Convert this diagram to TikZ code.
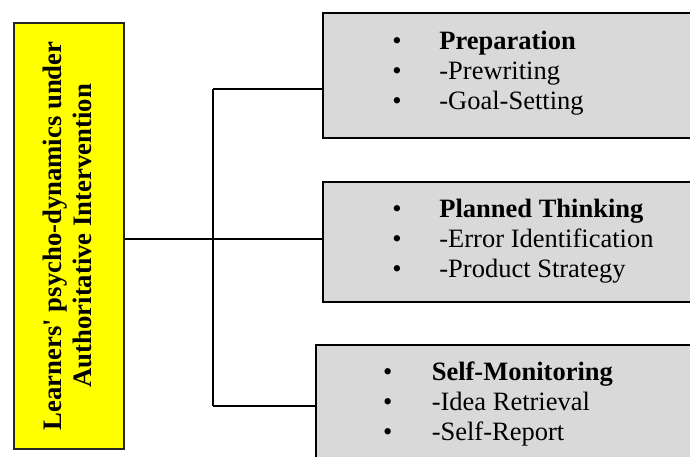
\documentclass[tikz,border=0pt]{standalone}
\usepackage{fontspec}
\setmainfont{Liberation Serif}
\definecolor{boxgray}{HTML}{D9D9D9}
\definecolor{hiyellow}{HTML}{FFFF00}
\begin{document}
\begin{tikzpicture}[x=1pt,y=-1pt,
  rootbox/.style={draw=black!85, line width=1.6pt, fill=hiyellow, inner sep=0pt, anchor=north west},
  stagebox/.style={draw=black, line width=1.8pt, fill=boxgray, inner sep=0pt, anchor=north west},
  bigfont/.style={font=\fontsize{26.5}{30}\selectfont},
  listtext/.style={bigfont, inner sep=0pt, anchor=base west},
  link/.style={draw=black, line width=2pt}]
\useasboundingbox (0,0) rectangle (690,456);
\clip (0,0) rectangle (690,456);

% central concept, rotated
\node[rootbox, minimum width=110pt, minimum height=426pt] (root) at (13,22) {};
\node[font=\bfseries\fontsize{26.7}{30}\selectfont, rotate=90, align=center, inner sep=0pt] (rootlabel) at ([xshift=-1pt]root.center)
  {Learners\textquotesingle{} psycho-dynamics under\\Authoritative Intervention};

% stage boxes (running off the right and bottom edges)
\node[stagebox, minimum width=380pt, minimum height=125pt] (prep) at (322,12) {};
\node[stagebox, minimum width=380pt, minimum height=120pt] (plan) at (322,181) {};
\node[stagebox, minimum width=390pt, minimum height=130pt] (selfmon) at (315,344) {};

% bullet lists
\node[listtext] (preptext) at (392.2,49.3)
  {\begin{tabular}[t]{@{}p{47pt}@{}l@{}}\textbullet & \textbf{Preparation}\\ \textbullet & -Prewriting\\ \textbullet & -Goal-Setting\end{tabular}};
\node[listtext] (plantext) at (392.2,217.3)
  {\begin{tabular}[t]{@{}p{47pt}@{}l@{}}\textbullet & \textbf{Planned Thinking}\\ \textbullet & -Error Identification\\ \textbullet & -Product Strategy\end{tabular}};
\node[listtext] (selfmontext) at (382.8,380)
  {\begin{tabular}[t]{@{}p{48.8pt}@{}l@{}}\textbullet & \textbf{Self-Monitoring}\\ \textbullet & -Idea Retrieval\\ \textbullet & -Self-Report\end{tabular}};

% tree connectors
\coordinate (jtop) at (213,89);
\coordinate (jmid) at (213,239);
\coordinate (jbot) at (213,406);
\draw[link] (jtop) -- (jbot);
\draw[link] (jtop) -- (jtop -| prep.west);
\draw[link] (root.east |- jmid) -- (jmid -| plan.west);
\draw[link] (jbot) -- (jbot -| selfmon.west);
\end{tikzpicture}
\end{document}
